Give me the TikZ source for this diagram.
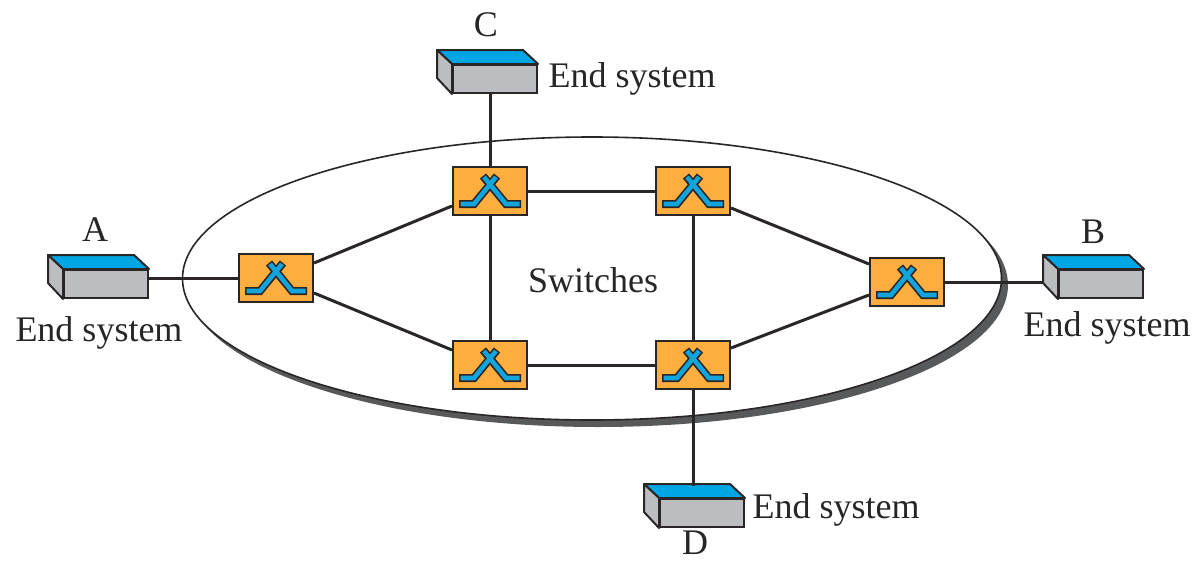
\documentclass[tikz,border=0pt]{standalone}
\usepackage{fontspec}
\setmainfont{Liberation Serif}
\usetikzlibrary{calc,shapes.geometric}
\definecolor{ink}{HTML}{2A2627}
\definecolor{swfill}{HTML}{FDAE3E}
\definecolor{icon}{HTML}{12A5DC}
\definecolor{topblue}{HTML}{00A6E4}
\definecolor{frontgrey}{HTML}{BBBDC0}
\definecolor{shadowgrey}{HTML}{58595B}
\tikzset{
  switchbox/.style={draw=ink,fill=swfill,line width=2pt,minimum width=74pt,minimum height=48pt,inner sep=0pt,outer sep=1pt},
  frontface/.style={draw=ink,fill=frontgrey,line width=2pt,minimum width=84pt,minimum height=28pt,inner sep=0pt,outer sep=1pt},
  link/.style={draw=ink,line width=3pt},
  lbl/.style={font=\fontsize{36}{40}\selectfont,text=black!85,inner sep=0pt},
}
\newcommand{\myswitch}[3]{%
  \node[switchbox] (#1) at (#2,#3) {};
  \foreach \sgn in {1,-1}{%
    \draw[ink,line width=8pt,line join=miter,line cap=butt]
      ($(#1.center)+(\sgn*31,13)$) -- ($(#1.center)+(\sgn*16,13)$) -- ($(#1.center)+(-\sgn*7,-15)$);
  }%
  \foreach \sgn in {1,-1}{%
    \draw[icon,line width=4.6pt,line join=miter,line cap=butt]
      ($(#1.center)+(\sgn*29.5,13)$) -- ($(#1.center)+(\sgn*16,13)$) -- ($(#1.center)+(-\sgn*6,-14)$);
  }%
}
\newcommand{\mybox}[3]{%
  \node[frontface] (#1) at (#2,#3) {};
  \draw[ink,line width=2pt,line join=round,fill=topblue]
    (#1.north west) -- ++(-15,-14) -- ++(86,0) -- (#1.north east) -- cycle;
  \draw[ink,line width=2pt,line join=round,fill=frontgrey]
    (#1.north west) -- ++(-15,-14) -- ++(0,28) -- (#1.south west) -- cycle;
}
\begin{document}
\begin{tikzpicture}[x=1pt,y=-1pt]
\useasboundingbox (0,0) rectangle (1194,560);
% network cloud
\node[fill=shadowgrey,ellipse,minimum width=820pt,minimum height=284pt,inner sep=0pt] (shadow) at (598,285) {};
\node[draw=ink,fill=white,line width=1.6pt,ellipse,minimum width=819pt,minimum height=283pt,inner sep=0pt] (cloud) at (592,278.5) {};
% node placement
\myswitch{s1}{276}{278}
\myswitch{s2}{490}{191}
\myswitch{s3}{693}{191}
\myswitch{s4}{907}{282}
\myswitch{s5}{490}{365}
\myswitch{s6}{693}{365}
\mybox{a}{106}{284}
\mybox{b}{1101}{284}
\mybox{c}{495}{79}
\mybox{d}{702}{513}
% connectors
\draw[link] (a.east |- s1.west) -- (s1.west);
\draw[link] (c.south -| s2.north) -- (s2.north);
\draw[link] (s1.east |- 0,263) -- (s2.west |- 0,206);
\draw[link] (s1.east |- 0,293) -- (s5.west |- 0,350);
\draw[link] (s2.east) -- (s3.west);
\draw[link] (s5.east) -- (s6.west);
\draw[link] (s2.south) -- (s5.north);
\draw[link] (s3.south) -- (s6.north);
\draw[link] (s3.east |- 0,208) -- (s4.west |- 0,264);
\draw[link] (s6.east |- 0,348) -- (s4.west |- 0,295);
\draw[link] (s4.east) -- ([xshift=-15pt]b.west |- s4.east);
\draw[link] (s6.south) -- (s6.south |- 0,486);
% labels
\node[lbl] (la) at (95,230) {A};
\node[lbl] (lb) at (1093,232) {B};
\node[lbl] (lc) at (486,25) {C};
\node[lbl] (ld) at (695,543) {D};
\node[lbl] (ea) at (99,333) {End system};
\node[lbl] (eb) at (1107,328) {End system};
\node[lbl] (ec) at (632,79) {End system};
\node[lbl] (ed) at (836,510) {End system};
\node[lbl] (sw) at (593,280) {Switches};
\end{tikzpicture}
\end{document}
